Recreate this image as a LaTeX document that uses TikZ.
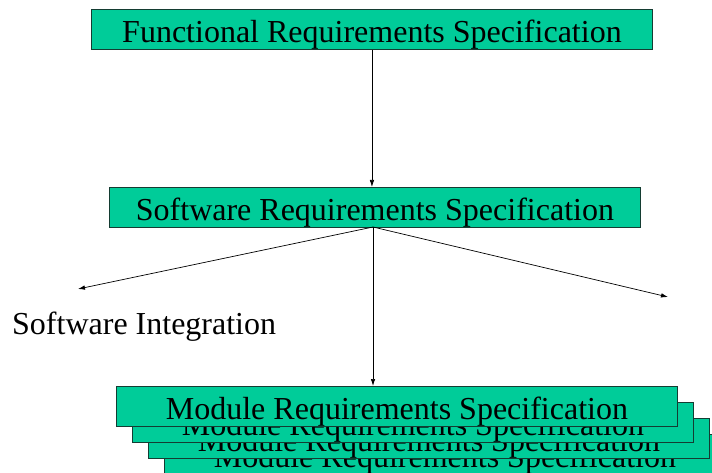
\documentclass[tikz,border=0pt]{standalone}
\usepackage{fontspec}
\setmainfont{Liberation Serif}
\usetikzlibrary{arrows.meta}
\definecolor{boxgreen}{RGB}{0,204,153}
\definecolor{boxedge}{RGB}{20,60,50}
\tikzset{
  specbox/.style={draw=boxedge, line width=0.9pt, fill=boxgreen, minimum width=561pt, minimum height=40pt, inner sep=0pt, text height=28pt, text depth=2pt, font=\fontsize{32}{34}\selectfont, anchor=north west},
  arr/.style={line width=0.7pt, -{Latex[length=7pt,width=4.5pt]}}
}
\begin{document}
\begin{tikzpicture}[x=1pt,y=1pt]
\clip (0,0) rectangle (712,-473);
\fill[white] (0,0) rectangle (712,-473);
\node[specbox] (top) at (91,-9) {Functional Requirements Specification};
\node[specbox, minimum width=531pt] (sw) at (109,-187) {Software Requirements Specification};
\node[specbox] (mod4) at (164,-434) {Module Requirements Specification};
\node[specbox] (mod3) at (148,-418) {Module Requirements Specification};
\node[specbox] (mod2) at (132,-402) {Module Requirements Specification};
\node[specbox] (mod1) at (116,-386) {Module Requirements Specification};
\node[font=\fontsize{32}{34}\selectfont, anchor=base west, inner sep=0pt] (si) at (12,-334) {Software Integration};
\coordinate (lend) at (78,-289);
\coordinate (rend) at (668,-297);
\coordinate (swout) at (373,-227);
\draw[arr] (top.south) -- (top.south |- sw.north);
\draw[arr] (swout) -- (lend);
\draw[arr] (swout) -- (rend);
\draw[arr] (swout) -- (swout |- mod1.north);
\end{tikzpicture}
\end{document}
